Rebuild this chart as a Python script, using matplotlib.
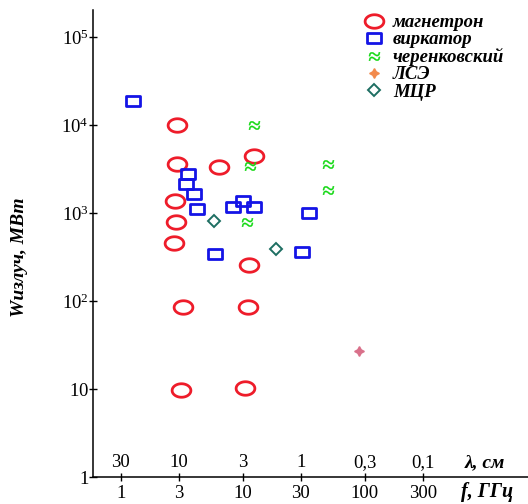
import numpy as np
import matplotlib
matplotlib.use('Agg')
import matplotlib.pyplot as plt
from matplotlib.path import Path
from matplotlib.lines import Line2D
import matplotlib.transforms as mtransforms

plt.rcParams['font.family'] = ['Liberation Serif', 'DejaVu Serif']
plt.rcParams['mathtext.fontset'] = 'custom'
plt.rcParams['mathtext.rm'] = 'Liberation Serif'
plt.rcParams['mathtext.it'] = 'Liberation Serif:italic'

# data: frequency, GHz / radiated power, MW
magnetron_f = [2.9, 2.9, 6.4, 12.4, 2.8, 2.85, 2.75, 11.3, 3.25, 11.0, 3.1, 10.5]
magnetron_w = [10000, 3600, 3350, 4500, 1370, 800, 460, 257, 86, 86, 9.7, 10.3]

vircator_f = [1.27, 3.58, 3.43, 4.0, 4.22, 8.4, 10.1, 12.3, 35, 5.9, 30.5]
vircator_w = [18700, 2750, 2120, 1630, 1110, 1160, 1370, 1180, 1010, 340, 360]

cherenkov_f = [12.4, 11.5, 10.8, 50, 50]
cherenkov_w = [10000, 3400, 800, 3650, 1830]

fel_f = [90]
fel_w = [27]

cyclotron_f = [5.8, 18.8]
cyclotron_w = [820, 390]

freq_ticks = [1, 3, 10, 30, 100, 300]
freq_labels = ['1', '3', '10', '30', '100', '300']
lam_labels = ['30', '10', '3', '1', '0,3', '0,1']
power_ticks = [1, 10, 100, 1000, 10000, 100000]
power_labels = [r'$1\ \ \ $', r'$10\ \ \ $', r'$10^2$', r'$10^3$', r'$10^4$', r'$10^5$']

legend_labels = ['магнетрон', 'виркатор', 'черенковский', 'ЛСЭ', 'МЦР']

# slightly squashed markers, like in the source picture
t = np.linspace(0, 2 * np.pi, 60)
ellipse = Path(np.column_stack([np.cos(t), 0.72 * np.sin(t)]), closed=True)
rect = Path([(-1, -0.78), (1, -0.78), (1, 0.78), (-1, 0.78), (-1, -0.78)], closed=True)

fig = plt.figure(figsize=(5.28, 5.04), dpi=100)
ax = fig.add_axes([93 / 528, 27 / 504, 435 / 528, 467 / 504])

red = '#ee1c2a'
blue = '#1414e6'
green = '#10d810'
orange = '#f28a4c'
teal = '#1d6e62'

ax.plot(magnetron_f, magnetron_w, ls='none', marker=ellipse, ms=13.5,
        mfc='none', mec=red, mew=2.0)
ax.plot(vircator_f, vircator_w, ls='none', marker=rect, ms=10,
        mfc='none', mec=blue, mew=2.0)
ax.plot(cherenkov_f, cherenkov_w, ls='none', marker=r'$\approx$', ms=8,
        color=green, mew=0.3)
ax.plot(fel_f, fel_w, ls='none', marker=(4, 1, 0), ms=7, color='#d9708a')
ax.plot(cyclotron_f, cyclotron_w, ls='none', marker='D', ms=6,
        mfc='none', mec=teal, mew=1.4)

ax.set_xscale('log')
ax.set_yscale('log')
ax.set_xlim(0.593, 2180)
ax.set_ylim(1, 2.04e5)

for s in ['top', 'right']:
    ax.spines[s].set_visible(False)
for s in ['left', 'bottom']:
    ax.spines[s].set_linewidth(1.1)

ax.set_xticks(freq_ticks)
ax.set_xticklabels(freq_labels)
ax.set_yticks(power_ticks)
ax.set_yticklabels(power_labels)
ax.minorticks_off()
ax.tick_params(axis='both', direction='inout', length=6, width=1.0,
               labelsize=13.5)
ax.tick_params(axis='x', pad=3)
ax.tick_params(axis='y', pad=0)

# wavelength row above the frequency axis
trans = mtransforms.blended_transform_factory(ax.transData, ax.transAxes)
for f, lam in zip(freq_ticks, lam_labels):
    ax.text(f, 0.03, lam, transform=trans, ha='center', va='center', fontsize=13.5)
ax.text(0.855, 0.03, 'λ, см', transform=ax.transAxes, ha='left', va='center',
        fontsize=14, fontweight='bold', style='italic')
ax.text(0.845, -0.032, 'f, ГГц', transform=ax.transAxes, ha='left', va='center',
        fontsize=14.5, fontweight='bold', style='italic', clip_on=False)

fig.text(20 / 528, 1 - 257 / 504, 'Wизлуч, МВт', rotation=90, ha='center',
         va='center', fontsize=14, fontweight='bold', style='italic')

handles = [
    Line2D([], [], ls='none', marker=ellipse, ms=13.5, mfc='none', mec=red, mew=2.0),
    Line2D([], [], ls='none', marker=rect, ms=10, mfc='none', mec=blue, mew=2.0),
    Line2D([], [], ls='none', marker=r'$\approx$', ms=8, color=green, mew=0.3),
    Line2D([], [], ls='none', marker=(4, 1, 0), ms=7, color=orange),
    Line2D([], [], ls='none', marker='D', ms=6, mfc='none', mec=teal, mew=1.4),
]
leg = fig.legend(handles, legend_labels, loc='upper left',
                 bbox_to_anchor=(364 / 528, 1 - 14 / 504), frameon=False,
                 borderpad=0, handlelength=1.1, handletextpad=0.45,
                 labelspacing=0.0, borderaxespad=0,
                 prop={'family': 'Liberation Serif', 'size': 13.5,
                       'weight': 'bold', 'style': 'italic'})

fig.savefig('out.png', dpi=100)
